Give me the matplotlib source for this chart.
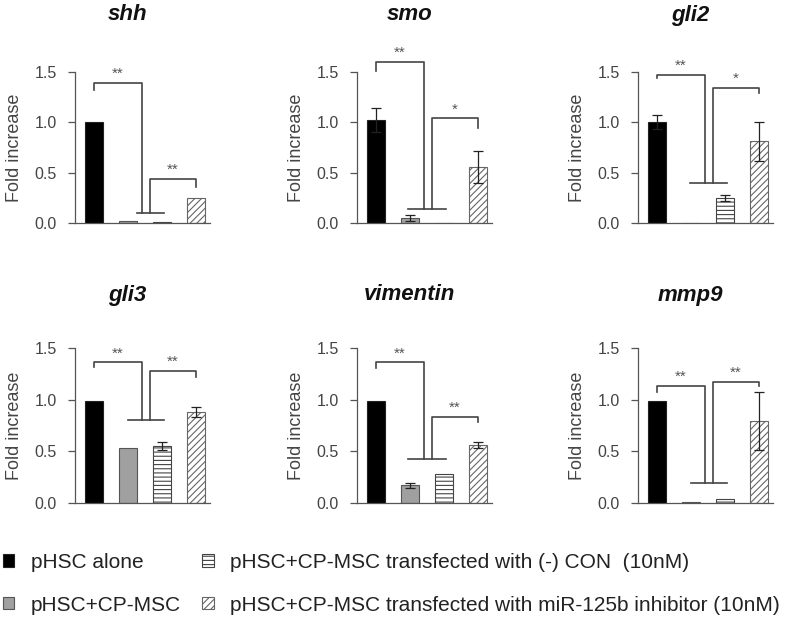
import numpy as np
import matplotlib.pyplot as plt
from matplotlib.patches import Patch
from matplotlib.ticker import FormatStrFormatter

plt.rcParams['font.family'] = ['Liberation Sans', 'DejaVu Sans']
plt.rcParams['hatch.linewidth'] = 0.8

# data
genes = ['shh', 'smo', 'gli2', 'gli3', 'vimentin', 'mmp9']
groups = ['pHSC alone', 'pHSC+CP-MSC',
          'pHSC+CP-MSC transfected with (-) CON  (10nM)',
          'pHSC+CP-MSC transfected with miR-125b inhibitor (10nM)']

alone = [1.00, 1.02, 1.00, 0.99, 0.99, 0.99]
alone_err = [0.0, 0.12, 0.07, 0.0, 0.0, 0.0]
cpmsc = [0.02, 0.05, 0.0, 0.53, 0.17, 0.01]
cpmsc_err = [0.0, 0.03, 0.0, 0.0, 0.02, 0.0]
con = [0.01, 0.0, 0.25, 0.55, 0.28, 0.04]
con_err = [0.0, 0.0, 0.03, 0.04, 0.0, 0.0]
inhib = [0.25, 0.56, 0.81, 0.88, 0.56, 0.79]
inhib_err = [0.0, 0.16, 0.19, 0.05, 0.03, 0.28]

# significance brackets (y values in data units)
drop1 = [1.32, 1.51, 1.44, 1.32, 1.31, 1.07]
top1 = [1.39, 1.60, 1.47, 1.36, 1.36, 1.13]
base = [0.10, 0.14, 0.40, 0.80, 0.43, 0.19]
base_left = [1.26, 0.95, 0.98, 1.0, 0.95, 1.0]
top2 = [0.44, 1.04, 1.34, 1.28, 0.83, 1.17]
drop2 = [0.36, 0.94, 1.29, 1.22, 0.78, 1.13]
stars1 = ['**', '**', '**', '**', '**', '**']
stars2 = ['**', '*', '*', '**', '**', '**']

colors = ['black', '#a0a0a0', 'white', 'white']
edges = ['#222222', '#555555', '#444444', '#666666']
hatches = [None, None, '----', '/////']

W, H = 787, 619
fig = plt.figure(figsize=(W / 100, H / 100), dpi=100)

col_left = [75, 357, 638]
row_bottom = [223, 503]
row_height = [151, 155]
ax_w = 135
title_y = [15, 295]

x = np.arange(4)
for i, gene in enumerate(genes):
    r, c = divmod(i, 3)
    ax = fig.add_axes([col_left[c] / W, 1 - row_bottom[r] / H,
                       ax_w / W, row_height[r] / H])
    vals = [alone[i], cpmsc[i], con[i], inhib[i]]
    errs = [alone_err[i], cpmsc_err[i], con_err[i], inhib_err[i]]
    ax.bar(x, vals, width=0.53, color=colors, edgecolor=edges,
           hatch=hatches, linewidth=0.8, zorder=2)
    for xi, v, e in zip(x, vals, errs):
        if e > 0:
            ax.errorbar(xi, v, yerr=e, fmt='none', ecolor='#222222',
                        capsize=3.5, elinewidth=0.9, capthick=0.9, zorder=3)

    # brackets
    v1, v2 = 1.40, 1.64
    lc = '#444444'
    ax.plot([0, 0, v1, v1], [drop1[i], top1[i], top1[i], base[i]],
            color=lc, lw=1.2, clip_on=False)
    ax.plot([v2, v2, 3, 3], [base[i], top2[i], top2[i], drop2[i]],
            color=lc, lw=1.2, clip_on=False)
    ax.plot([base_left[i], 2.06], [base[i], base[i]], color=lc, lw=1.2,
            clip_on=False)
    ax.text(v1 / 2, top1[i] + 0.02, stars1[i], ha='center', va='bottom',
            fontsize=11, color='#555555')
    ax.text((v2 + 3) / 2, top2[i] + 0.02, stars2[i], ha='center',
            va='bottom', fontsize=11, color='#555555')

    ax.set_xlim(-0.55, 3.4)
    ax.set_ylim(0, 1.5)
    ax.set_xticks([])
    ax.set_yticks([0, 0.5, 1.0, 1.5])
    ax.yaxis.set_major_formatter(FormatStrFormatter('%.1f'))
    ax.tick_params(axis='y', direction='out', length=5, width=0.9,
                   color='#555555', labelcolor='#444444', labelsize=11.5,
                   pad=8)
    for s in ['top', 'right']:
        ax.spines[s].set_visible(False)
    for s in ['left', 'bottom']:
        ax.spines[s].set_color('#555555')
        ax.spines[s].set_linewidth(0.9)
    ax.set_ylabel('Fold increase', fontsize=13, color='#444444')
    ax.yaxis.set_label_coords(-52 / ax_w, 0.5)

    fig.text((col_left[c] + 0.39 * ax_w) / W, 1 - title_y[r] / H, gene,
             ha='center', va='center', fontsize=16, fontweight='bold',
             fontstyle='italic', color='#111111')

handles = [Patch(facecolor=colors[k], edgecolor=edges[k], hatch=hatches[k],
                 linewidth=0.8) for k in range(4)]
fig.legend(handles, groups, ncol=2, loc='upper left',
           bbox_to_anchor=(3 / W, 1 - 553 / H), frameon=False,
           borderpad=0, borderaxespad=0,
           fontsize=15.0, handlelength=0.55, handleheight=0.55,
           handletextpad=0.8, labelspacing=1.13, columnspacing=1.0,
           labelcolor='#222222')

fig.savefig('out.png', dpi=100)
